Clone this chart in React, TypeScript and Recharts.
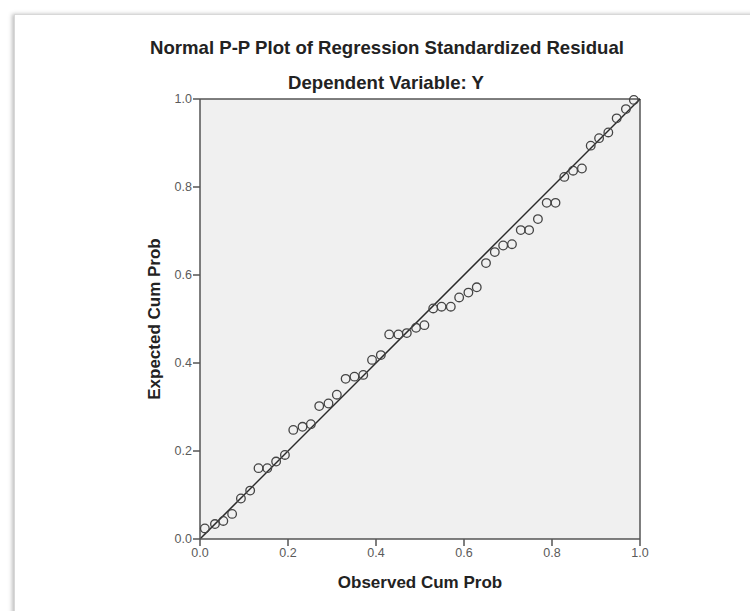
import { ScatterChart, Scatter, XAxis, YAxis, CartesianGrid, ReferenceLine } from 'recharts';

const OBSERVED = [
  0.011, 0.034, 0.053, 0.073, 0.093, 0.114, 0.133, 0.153, 0.173, 0.193,
  0.212, 0.233, 0.252, 0.271, 0.292, 0.311, 0.331, 0.351, 0.371, 0.391,
  0.411, 0.43, 0.451, 0.47, 0.491, 0.51, 0.53, 0.549, 0.57, 0.589,
  0.61, 0.629, 0.65, 0.67, 0.689, 0.709, 0.729, 0.748, 0.768, 0.788,
  0.808, 0.828, 0.848, 0.868, 0.888, 0.907, 0.928, 0.947, 0.968, 0.986,
];
const EXPECTED = [
  0.024, 0.034, 0.041, 0.057, 0.092, 0.11, 0.161, 0.161, 0.176, 0.191,
  0.248, 0.255, 0.261, 0.302, 0.308, 0.328, 0.364, 0.369, 0.373, 0.407,
  0.418, 0.465, 0.465, 0.468, 0.48, 0.486, 0.524, 0.528, 0.528, 0.549,
  0.56, 0.572, 0.627, 0.652, 0.667, 0.67, 0.702, 0.702, 0.727, 0.764,
  0.764, 0.823, 0.837, 0.842, 0.894, 0.911, 0.924, 0.956, 0.977, 0.998,
];
const TICKS = [0, 0.2, 0.4, 0.6, 0.8, 1];

const points = OBSERVED.map((x, i) => ({ x, y: EXPECTED[i] }));

const FONT = '"Liberation Sans", Arial, sans-serif';
const tickStyle = { fontSize: 12.5, fill: '#5a5a5a', fontFamily: FONT };

export default function App() {
  return (
    <div style={{ position: 'fixed', left: 0, top: 0, width: 750, height: 611, background: '#fff', overflow: 'hidden', fontFamily: FONT }}>
      <div
        style={{
          position: 'absolute',
          left: 14,
          top: 14,
          width: 760,
          height: 620,
          border: '1px solid #d8d8d8',
          boxShadow: '-2px 0 4px rgba(0,0,0,0.25)',
        }}
      />
      <div style={{ position: 'absolute', left: 0, width: 774, top: 37, textAlign: 'center', fontSize: 18.6, fontWeight: 'bold', color: '#222' }}>
        Normal P-P Plot of Regression Standardized Residual
      </div>
      <div style={{ position: 'absolute', left: 0, width: 772, top: 72, textAlign: 'center', fontSize: 18.6, fontWeight: 'bold', color: '#222' }}>
        Dependent Variable: Y
      </div>
      <div style={{ position: 'absolute', left: 0, width: 840, top: 573, textAlign: 'center', fontSize: 17, fontWeight: 'bold', color: '#222' }}>
        Observed Cum Prob
      </div>
      <div
        style={{
          position: 'absolute',
          left: 155 - 100,
          top: 319 - 10,
          width: 200,
          height: 20,
          lineHeight: '20px',
          textAlign: 'center',
          fontSize: 17,
          fontWeight: 'bold',
          color: '#222',
          transform: 'rotate(-90deg)',
        }}
      >
        Expected Cum Prob
      </div>
      <div style={{ position: 'absolute', left: 0, top: 0 }}>
        <ScatterChart width={750} height={611} margin={{ top: 99, right: 110, left: 140, bottom: 42 }}>
          <CartesianGrid horizontal={false} vertical={false} fill="#f0f0f0" />
          <XAxis
            type="number"
            dataKey="x"
            domain={[0, 1]}
            ticks={TICKS}
            tickFormatter={(v) => v.toFixed(1)}
            tick={tickStyle}
            tickSize={7}
            tickMargin={2}
            height={30}
            stroke="#555"
            strokeWidth={1.5}
          />
          <YAxis
            type="number"
            dataKey="y"
            domain={[0, 1]}
            ticks={TICKS}
            tickFormatter={(v) => v.toFixed(1)}
            tick={tickStyle}
            tickSize={7}
            tickMargin={1}
            width={60}
            stroke="#555"
            strokeWidth={1.5}
          />
          <ReferenceLine y={1} stroke="#555" strokeWidth={1.5} />
          <ReferenceLine x={1} stroke="#555" strokeWidth={1.5} />
          <ReferenceLine
            segment={[
              { x: 0, y: 0 },
              { x: 1, y: 1 },
            ]}
            stroke="#2a2a2a"
            strokeWidth={1.5}
          />
          <Scatter
            data={points}
            isAnimationActive={false}
            shape={(p: any) => <circle cx={p.cx} cy={p.cy} r={4.3} fill="none" stroke="#444" strokeWidth={1.3} />}
          />
        </ScatterChart>
      </div>
    </div>
  );
}
